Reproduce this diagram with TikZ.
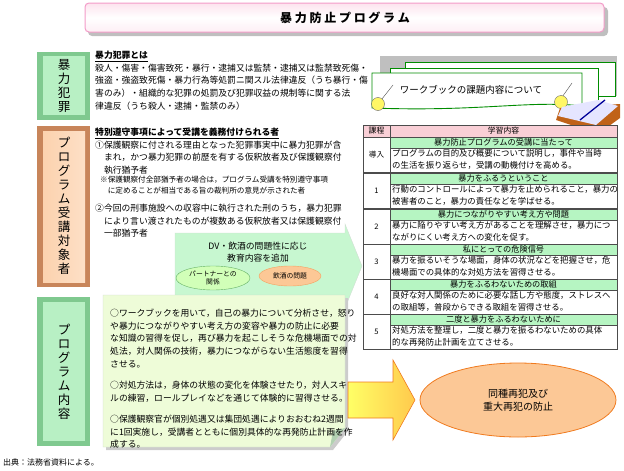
\documentclass[tikz,border=0pt]{standalone}
\usepackage{fontspec}
\newfontfamily\jp{Noto Sans CJK JP}
\usetikzlibrary{shapes.geometric}
\definecolor{pinkB}{HTML}{F39BC8}
\definecolor{pinkL}{HTML}{FDE3EE}
\definecolor{grnD}{HTML}{7FC98F}
\definecolor{grnL}{HTML}{B8F0C4}
\definecolor{orD}{HTML}{C8855A}
\definecolor{orL}{HTML}{FCD2AE}
\definecolor{noteG}{HTML}{EEFCD8}
\definecolor{rowG}{HTML}{B6F5C2}
\definecolor{rowP}{HTML}{F9CFD6}
\definecolor{arrG}{HTML}{C7F7D0}
\definecolor{ellO}{HTML}{FCC896}
\definecolor{orB}{HTML}{F07A1E}
\begin{document}
\begin{tikzpicture}[x=1pt,y=-1pt,
 txt/.style={font=\jp\fontsize{8.8}{12.6}\selectfont,align=left,anchor=north west,inner sep=0pt},
 ttxt/.style={font=\jp\fontsize{8.4}{12.2}\selectfont,align=left,anchor=north west,inner sep=0pt},
 vlab/.style={font=\jp\fontsize{12.5}{14}\selectfont,align=center,inner sep=0pt},
 cell/.style={draw=black!70,line width=0.6pt}]
\useasboundingbox (0,0) rectangle (624,471);
% title
\fill[black!25,rounded corners=4] (88,7) rectangle (608,36);
\shade[top color=pinkL,bottom color=pinkL!60!white,middle color=white,draw=pinkB,line width=1pt,rounded corners=4] (85,3) rectangle (604,32);
\node[font=\jp\bfseries\fontsize{12}{14}\selectfont] (title) at (345,18) {暴\ 力\ 防\ 止\ プ\ ロ\ グ\ ラ\ ム};
% left labels (beveled)
\fill[grnD] (37,52) rectangle (90,120);
\fill[grnL] (43,56) rectangle (85,115);
\node[vlab] (l1) at (64,86) {暴\\力\\犯\\罪};
\fill[orD] (37,126) rectangle (90,287);
\shade[left color=orL,right color=orL!70!white] (43,131) rectangle (85,282);
\node[vlab] (l2) at (64,206) {プ\\ロ\\グ\\ラ\\ム\\受\\講\\対\\象\\者};
\fill[grnD] (37,297) rectangle (90,446);
\fill[grnL] (43,302) rectangle (85,441);
\node[vlab] (l3) at (64,372) {プ\\ロ\\グ\\ラ\\ム\\内\\容};
% block 1
\node[txt] (b1) at (95,51) {\textbf{\underline{暴力犯罪とは}}\\殺人・傷害・傷害致死・暴行・逮捕又は監禁・逮捕又は監禁致死傷・\\強盗・強盗致死傷・暴力行為等処罰ニ関スル法律違反（うち暴行・傷\\害のみ）・組織的な犯罪の処罰及び犯罪収益の規制等に関する法\\律違反（うち殺人・逮捕・監禁のみ）};
% block 2
\node[txt] (b2) at (95,128) {\textbf{\underline{特別遵守事項によって受講を義務付けられる者}}\\①保護観察に付される理由となった犯罪事実中に暴力犯罪が含\\\hspace*{1em}まれ，かつ暴力犯罪の前歴を有する仮釈放者及び保護観察付\\\hspace*{1em}執行猶予者};
\node[txt,font=\jp\fontsize{7.6}{11}\selectfont] (b2n) at (100,176) {※保護観察付全部猶予者の場合は，プログラム受講を特別遵守事項\\\hspace*{1em}に定めることが相当である旨の裁判所の意見が示された者};
\node[txt] (b2b) at (95,204) {②今回の刑事施設への収容中に執行された刑のうち，暴力犯罪\\\hspace*{1em}により言い渡されたものが複数ある仮釈放者又は保護観察付\\\hspace*{1em}一部猶予者};
% green arrow
\draw[fill=arrG,draw=arrG!70!black!40!white] (175,233)--(345,233)--(345,224)--(362,266)--(345,308)--(345,300)--(175,300)--cycle;
\node[font=\jp\fontsize{8.8}{12.6}\selectfont,align=center] (dv) at (258,252) {DV・飲酒の問題性に応じ\\教育内容を追加};
\node[ellipse,draw=green!50!black!60,fill=green!20!white!90!yellow,minimum width=74,minimum height=24,inner sep=0,font=\jp\fontsize{6.8}{8.5}\selectfont,align=center] (e1) at (213,278) {パートナーとの\\関係};
\node[ellipse,draw=orB!70,fill=ellO,minimum width=62,minimum height=20,inner sep=0,font=\jp\fontsize{6.8}{8.5}\selectfont] (e2) at (290,276) {飲酒の問題};
% note box 3
\fill[black!20] (106,298)--(348,298)--(348,431)--(333,450)--(106,450)--cycle;
\fill[noteG,draw=green!30!black!20] (103,295)--(345,295)--(345,428)--(330,447)--(103,447)--cycle;
\fill[green!40!black!30] (345,428)--(330,447)--(333,431)--cycle;
\node[txt] (b3) at (110,309) {○ワークブックを用いて，自己の暴力について分析させ，怒り\\や暴力につながりやすい考え方の変容や暴力の防止に必要\\な知識の習得を促し，再び暴力を起こしそうな危機場面での対\\処法，対人関係の技術，暴力につながらない生活態度を習得\\させる。};
\node[txt] (b3b) at (110,381) {○対処方法は，身体の状態の変化を体験させたり，対人スキ\\ルの練習，ロールプレイなどを通じて体験的に習得させる。};
\node[txt] (b3c) at (110,415) {○保護観察官が個別処遇又は集団処遇によりおおむね2週間\\に1回実施し，受講者とともに個別具体的な再発防止計画を作\\成する。};
% workbook banner
\fill[black!25] (380,56) rectangle (617,96);
\draw[fill=white,draw=green!55!black,line width=0.9pt] (405,62)--(615,62)--(615,96)--(405,96)--cycle;
\draw[fill=white,draw=green!55!black,line width=0.9pt] (390,68)--(598,68)--(598,103)--(390,103)--cycle;
\draw[fill=white,draw=green!55!black,line width=0.9pt] (372,73)--(582,73)--(582,106) .. controls (530,100) and (480,112) .. (372,108)--cycle;
\node[font=\jp\fontsize{9.5}{11}\selectfont] (wb) at (471,90) {ワークブックの課題内容について};
\draw[black!70] (378,104)--(393,85); \draw[black!70] (560,100)--(572,83);
\node[circle,draw=black!60,fill=yellow!60,minimum size=13,inner sep=0] (c1) at (378,104) {};
\node[circle,draw=black!60,fill=yellow!60,minimum size=13,inner sep=0] (c2) at (561,102) {};
% book
\fill[orB!80!black] (560,108)--(620,104)--(620,118)--(598,134)--(556,120)--cycle;
\fill[white!90!blue] (562,107)--(598,100)--(618,106)--(596,125)--(558,116)--cycle;
\draw[blue!60!black,line width=1.3pt] (580,120)--(605,100);
% table
\def\tL{363}\def\tM{390}\def\tR{617}
\draw[cell,fill=rowP] (\tL,125) rectangle (\tM,137);
\draw[cell,fill=rowP] (\tM,125) rectangle (\tR,137);
\node[font=\jp\fontsize{7.8}{9}\selectfont] (h1) at (376.5,131) {課程};
\node[font=\jp\fontsize{7.8}{9}\selectfont] (h2) at (503.5,131) {学習内容};
\foreach \t/\n/\ti/\bo in {
 137/導入/暴力防止プログラムの受講に当たって/{プログラムの目的及び概要について説明し，事件や当時\\の生活を振り返らせ，受講の動機付けを高める。},
 173/1/暴力をふるうということ/{行動のコントロールによって暴力を止められること，暴力の\\被害者のこと，暴力の責任などを学ばせる。},
 209/2/暴力につながりやすい考え方や問題/{暴力に陥りやすい考え方があることを理解させ，暴力につ\\ながりにくい考え方への変化を促す。},
 244/3/私にとっての危険信号/{暴力を振るいそうな場面，身体の状況などを把握させ，危\\機場面での具体的な対処方法を習得させる。},
 279/4/暴力をふるわないための取組/{良好な対人関係のために必要な話し方や態度，ストレスへ\\の取組等，普段からできる取組を習得させる。},
 314/5/二度と暴力をふるわないために/{対処方法を整理し，二度と暴力を振るわないための具体\\的な再発防止計画を立てさせる。}}{
 \draw[cell,fill=white] (\tL,\t) rectangle (\tM,\t+35);
 \draw[cell,fill=rowG] (\tM,\t) rectangle (\tR,\t+11);
 \draw[cell,fill=white] (\tM,\t+11) rectangle (\tR,\t+35);
 \node[font=\jp\fontsize{7.6}{9}\selectfont] at (376.5,\t+17.5) {\n};
 \node[font=\jp\fontsize{8.2}{9}\selectfont] at (503.5,\t+5.5) {\ti};
 \node[ttxt] at (392,\t+12) {\bo};
}
\draw[cell,line width=1pt] (\tL,125) rectangle (\tR,349);
% big arrow
\shade[left color=yellow!60!white,right color=yellow!40!orange!70,draw=orB,line width=0.6pt] (348,382)--(393,382)--(393,360)--(415,400)--(393,440)--(393,418)--(348,418)--cycle;
\node[ellipse,draw=orB,fill=ellO,line width=0.8pt,minimum width=196,minimum height=74,inner sep=0,font=\jp\fontsize{10}{13}\selectfont,align=center] (goal) at (518,400) {同種再犯及び\\重大再犯の防止};
% source
\node[font=\jp\fontsize{8}{10}\selectfont,anchor=west,inner sep=0] (src) at (3,462) {出典：法務省資料による。};
\end{tikzpicture}
\end{document}
